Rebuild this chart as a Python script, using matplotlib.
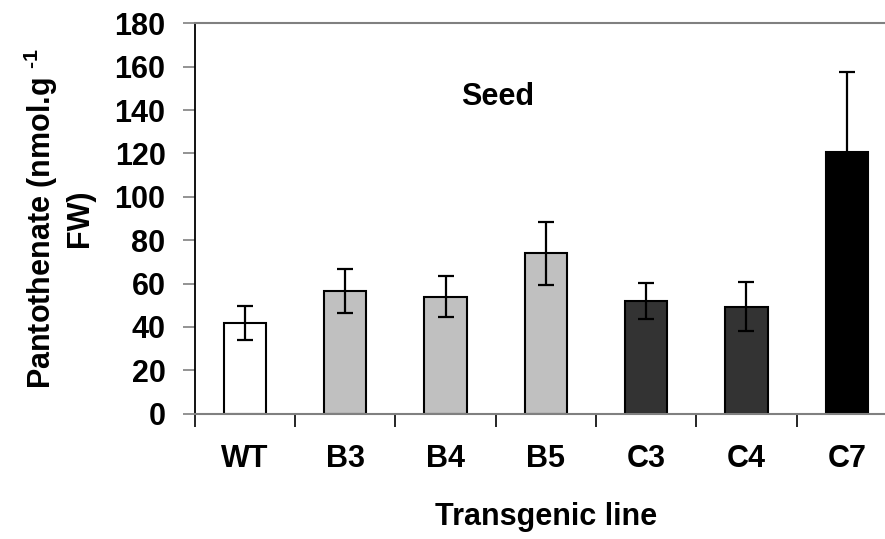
import matplotlib
matplotlib.use('Agg')
import matplotlib.pyplot as plt
import numpy as np

# Data
lines = ['WT', 'B3', 'B4', 'B5', 'C3', 'C4', 'C7']
pantothenate = [42.0, 56.5, 54.0, 74.0, 52.0, 49.3, 120.7]
err = [7.8, 10.2, 9.6, 14.6, 8.2, 11.4, 37.0]
bar_colors = ['white', '#c0c0c0', '#c0c0c0', '#c0c0c0', '#333333', '#333333', 'black']

plt.rcParams['font.family'] = 'Liberation Sans'
plt.rcParams['font.weight'] = 'bold'
plt.rcParams['mathtext.fontset'] = 'custom'
plt.rcParams['mathtext.rm'] = 'Liberation Sans:bold'
plt.rcParams['mathtext.bf'] = 'Liberation Sans:bold'
plt.rcParams['mathtext.default'] = 'bf'

fs = 22

fig = plt.figure(figsize=(8.85, 5.39), dpi=100)
ax = fig.add_axes([0.22, 0.2325, 0.7935, 0.7243])

x = np.arange(len(lines))
ax.bar(x, pantothenate, width=0.42, color=bar_colors, edgecolor='black',
       linewidth=1.5, zorder=2)
ax.errorbar(x, pantothenate, yerr=err, fmt='none', ecolor='black',
            elinewidth=1.6, capsize=5.5, capthick=1.6, zorder=3)

ax.set_xlim(-0.5, 6.5)
ax.set_ylim(0, 180)
ax.set_yticks(np.arange(0, 181, 20))

# tick marks between categories, labels at centres
ax.set_xticks(np.arange(-0.5, 7, 1))
ax.set_xticklabels([])
ax.set_xticks(x, minor=True)
ax.set_xticklabels(lines, minor=True)
ax.tick_params(axis='x', which='major', length=9, width=1.2, color='black', direction='out')
ax.tick_params(axis='x', which='minor', length=0, pad=22, labelsize=fs)
ax.tick_params(axis='y', length=9, width=1.2, color='#808080', pad=12, labelsize=fs)

ax.spines['left'].set_color('black')
ax.spines['left'].set_linewidth(1.3)
ax.spines['bottom'].set_color('#808080')
ax.spines['bottom'].set_linewidth(1.5)
ax.spines['top'].set_color('#808080')
ax.spines['top'].set_linewidth(1.5)
ax.spines['right'].set_visible(False)

ax.text(2.52, 146, 'Seed', ha='center', va='center', fontsize=fs, fontweight='bold')

ax.set_xlabel('Transgenic line', fontsize=fs, fontweight='bold', labelpad=20)
ax.set_ylabel('Pantothenate (nmol.g $^{\u2010 1}$\nFW)', fontsize=fs, fontweight='bold',
              labelpad=14, linespacing=1.2)

fig.savefig('out.png', dpi=100)
